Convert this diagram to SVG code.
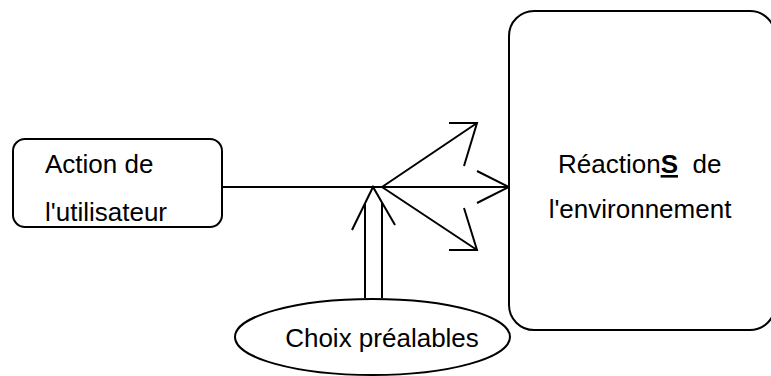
<svg xmlns="http://www.w3.org/2000/svg" width="771" height="376" viewBox="0 0 771 376">
<style>
.box{fill:#fff;stroke:#000;stroke-width:2}
.ln{fill:none;stroke:#000;stroke-width:2;stroke-linecap:butt}
.t{font-family:"Liberation Sans",Arial,sans-serif;font-size:26px;fill:#000}
</style>
<rect width="771" height="376" fill="#fff"/>
<g id="connectors">
<line class="ln" x1="222" y1="187" x2="509" y2="187"/>
<polyline class="ln" points="477,171 509,187 477,203"/>
<line class="ln" x1="382" y1="187" x2="477" y2="123"/>
<polyline class="ln" points="449,123 477,123 464,166"/>
<line class="ln" x1="382" y1="187" x2="477" y2="250"/>
<polyline class="ln" points="449,250 477,250 464,208"/>
<line class="ln" x1="365" y1="298" x2="365" y2="203"/>
<line class="ln" x1="382" y1="298" x2="382" y2="203"/>
<polyline class="ln" points="352,230 373,187 395,225"/>
</g>
<g id="action">
<rect class="box" x="13" y="139" width="209" height="88" rx="12"/>
<text class="t" x="45" y="173">Action de</text>
<text class="t" x="45" y="221">l'utilisateur</text>
</g>
<g id="reactions">
<rect class="box" x="509" y="11" width="266" height="319" rx="25"/>
<text class="t" x="558" y="173">Réaction<tspan font-weight="bold" text-decoration="underline">S</tspan>&#160; de</text>
<text class="t" x="640" y="218" text-anchor="middle">l'environnement</text>
</g>
<g id="choix">
<ellipse class="box" cx="372.5" cy="337" rx="137.5" ry="38"/>
<text class="t" x="382" y="347" text-anchor="middle">Choix préalables</text>
</g>
</svg>
